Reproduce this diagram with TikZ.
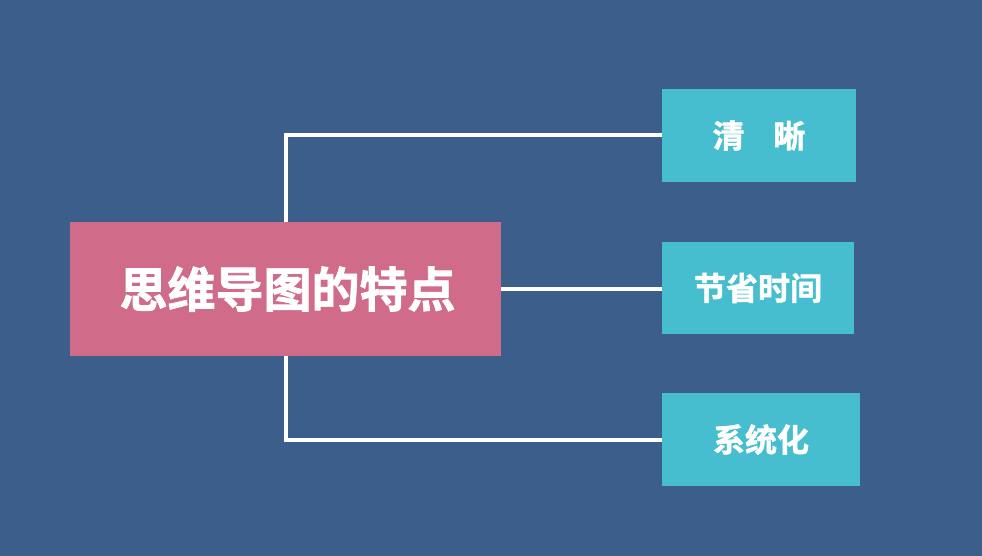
\documentclass[tikz,border=0pt]{standalone}
\usepackage{fontspec}
\newfontfamily\cjk{Noto Sans CJK SC}[BoldFont={Noto Sans CJK SC Bold},BoldFeatures={FakeBold=1.5}]
\definecolor{bgc}{HTML}{3B5E8A}
\definecolor{pinkc}{HTML}{D06C89}
\definecolor{tealc}{HTML}{46BECF}
\begin{document}
\begin{tikzpicture}[x=1pt,y=-1pt,
  mainbox/.style={fill=pinkc,text=white,font=\cjk\bfseries\fontsize{48}{54}\selectfont,inner sep=0pt},
  sidebox/.style={fill=tealc,text=white,font=\cjk\bfseries\fontsize{32}{38}\selectfont,inner sep=0pt},
  link/.style={draw=white,line width=4pt}]
\fill[bgc] (0,0) rectangle (982,556);
\useasboundingbox (0,0) rectangle (982,556);
\node[mainbox,minimum width=431pt,minimum height=134pt] (main) at (285.5,289) {\hspace{4pt}思维导图的特点};
\node[sidebox,minimum width=194pt,minimum height=93pt] (b1) at (759,135.5) {清\hspace{0.9em}晰};
\node[sidebox,minimum width=192pt,minimum height=92pt] (b2) at (758,288) {节省时间};
\node[sidebox,minimum width=198pt,minimum height=93pt] (b3) at (761,439.5) {系统化};
\draw[link] (main.north) |- (b1.west);
\draw[link] (main.east) -- (b2.west |- main.east);
\draw[link] (main.south) |- (b3.west);
\end{tikzpicture}
\end{document}
